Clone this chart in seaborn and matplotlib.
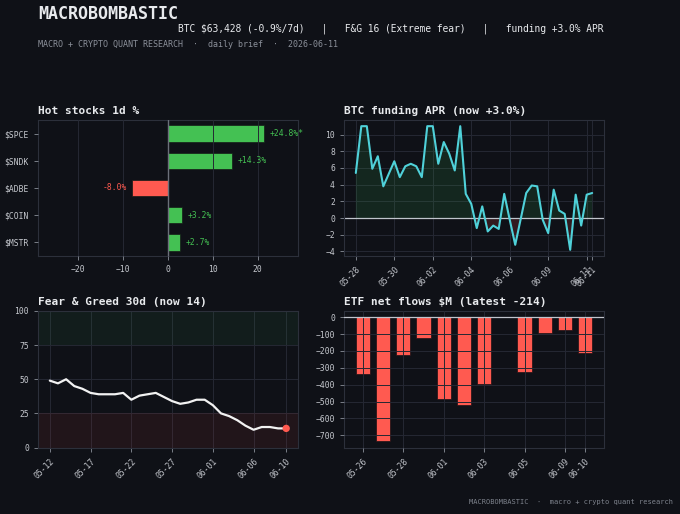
import numpy as np
import pandas as pd
import matplotlib
matplotlib.use("Agg")
import matplotlib.pyplot as plt
import seaborn as sns

# ---------------- data ----------------
stock_names = ["$SPCE", "$SNDK", "$ADBE", "$COIN", "$MSTR"]
stock_pct = [24.8, 14.3, -8.0, 3.2, 2.7]
stock_cap = 21.5

funding_apr = [5.4, 11.0, 11.0, 5.9, 7.4, 3.8, 5.3, 6.8, 4.9, 6.2, 6.5, 6.2, 4.9, 11.0, 11.0,
               6.5, 9.1, 7.7, 5.7, 11.0, 2.9, 1.7, -1.2, 1.4, -1.6, -0.9, -1.3, 2.9, -0.2, -3.2,
               -0.1, 3.0, 3.9, 3.8, -0.2, -1.8, 3.4, 0.9, 0.5, -3.8, 2.8, -0.9, 2.8, 3.0]
funding_tick_labels = ["05-28", "05-30", "06-02", "06-04", "06-06", "06-09", "06-11", "06-11"]

fg_dates = ["05-12", "05-13", "05-14", "05-15", "05-16", "05-17", "05-18", "05-19", "05-20", "05-21",
            "05-22", "05-23", "05-24", "05-25", "05-26", "05-27", "05-28", "05-29", "05-30", "05-31",
            "06-01", "06-02", "06-03", "06-04", "06-05", "06-06", "06-07", "06-08", "06-09", "06-10"]
fg_values = [49, 47, 50, 45, 43, 40, 39, 39, 39, 40, 35, 38, 39, 40, 37, 34, 32, 33, 35, 35,
             31, 25, 23, 20, 16, 13, 15, 15, 14, 14]

etf_dates = ["05-26", "05-27", "05-28", "05-29", "06-01", "06-02", "06-03", "06-04",
             "06-05", "06-08", "06-09", "06-10"]
etf_flows = [-334, -736, -223, -125, -483, -521, -398, 0, -324, -91, -78, -214]

# ---------------- style ----------------
BG = "#0f1117"
GRID = "#252833"
SPINE = "#2c303b"
TEXT = "#e8eaed"
TICK = "#c5c8ce"
DIM = "#8b909a"
GREEN = "#44c153"
RED = "#ff5a50"
CYAN = "#4fd1d9"

sns.set_theme(style="dark", rc={
    "figure.facecolor": BG, "axes.facecolor": BG, "savefig.facecolor": BG,
    "axes.edgecolor": SPINE, "axes.linewidth": 0.8, "axes.grid": True,
    "grid.color": GRID, "grid.linewidth": 0.7,
    "xtick.color": DIM, "ytick.color": DIM,
    "xtick.labelcolor": TICK, "ytick.labelcolor": TICK,
    "xtick.labelsize": 5.8, "ytick.labelsize": 5.8,
    "xtick.major.size": 3, "ytick.major.size": 3,
    "xtick.major.width": 0.6, "ytick.major.width": 0.6,
    "xtick.bottom": True, "ytick.left": True,
    "text.color": TEXT, "axes.labelcolor": TICK,
})
plt.rcParams["font.family"] = ["DejaVu Sans Mono", "DejaVu Sans"]

W, H = 680, 514
fig = plt.figure(figsize=(W / 100, H / 100), dpi=100)


def px_axes(l, t, r, b):
    return fig.add_axes([l / W, 1 - b / H, (r - l) / W, (b - t) / H])


ax1 = px_axes(38, 120, 298, 256)
ax2 = px_axes(344, 120, 604, 256)
ax3 = px_axes(38, 311, 298, 447.5)
ax4 = px_axes(344, 311, 604, 447.5)


def style_title(ax, txt):
    ax.set_title(txt, loc="left", fontsize=8, fontweight="bold", color=TEXT, pad=4)
    for s in ax.spines.values():
        s.set_color(SPINE)
        s.set_linewidth(0.8)
        s.set_visible(True)
    ax.set_xlabel("")
    ax.set_ylabel("")


# ---- Hot stocks ----
disp = np.clip(stock_pct, -stock_cap, stock_cap)
cols = [GREEN if v >= 0 else RED for v in stock_pct]
sdf = pd.DataFrame({"name": stock_names, "val": disp})
sns.barplot(data=sdf, x="val", y="name", hue="name", palette=cols, legend=False,
            orient="h", width=0.6, ax=ax1, saturation=1, edgecolor="#141a16", linewidth=0.5)
ax1.set_axisbelow(False)
ax1.axvline(0, color="#6b707a", lw=1.0, zorder=3)
for i, (v, d) in enumerate(zip(stock_pct, disp)):
    lab = f"{v:+.1f}%" + ("*" if abs(v) > stock_cap else "")
    if v >= 0:
        ax1.text(d + 1.2, i, lab, va="center", ha="left", fontsize=5.8, color=GREEN, zorder=4)
    else:
        ax1.text(d - 1.2, i, lab, va="center", ha="right", fontsize=5.8, color=RED, zorder=4)
ax1.set_xlim(-29, 29)
ax1.set_xticks([-20, -10, 0, 10, 20])
style_title(ax1, "Hot stocks 1d %")

# ---- BTC funding ----
fidx = np.arange(len(funding_apr))
fvals = np.array(funding_apr)
sns.lineplot(x=fidx, y=fvals, color=CYAN, lw=1.5, ax=ax2, zorder=3)
ax2.fill_between(fidx, fvals, 0, where=fvals >= 0, interpolate=True, color="#3dbf55", alpha=0.13, lw=0)
ax2.fill_between(fidx, fvals, 0, where=fvals < 0, interpolate=True, color="#ff5252", alpha=0.15, lw=0)
ax2.axhline(0, color="#c0c4cc", lw=0.9, zorder=2)
ftick_pos = list(range(0, len(funding_apr), 7)) + [len(funding_apr) - 1]
ax2.set_xticks(ftick_pos)
ax2.set_xticklabels(funding_tick_labels, rotation=45, ha="right", rotation_mode="anchor")
ax2.set_yticks([-4, -2, 0, 2, 4, 6, 8, 10])
ax2.set_xlim(-2.15, len(funding_apr) - 1 + 2.15)
style_title(ax2, "BTC funding APR (now +3.0%)")

# ---- Fear & Greed ----
gidx = np.arange(len(fg_values))
ax3.axhspan(75, 100, color="#2e8b4a", alpha=0.10, lw=0)
ax3.axhspan(0, 25, color="#c0393b", alpha=0.10, lw=0)
sns.lineplot(x=gidx, y=fg_values, color="#f2f2f2", lw=1.6, ax=ax3, zorder=3)
ax3.scatter([gidx[-1]], [fg_values[-1]], s=28, color=RED, zorder=4, edgecolor="none")
ax3.set_ylim(0, 100)
ax3.set_yticks([0, 25, 50, 75, 100])
gpos = list(range(0, len(fg_values), 5)) + [len(fg_values) - 1]
ax3.set_xticks(gpos)
ax3.set_xticklabels([fg_dates[i] for i in gpos], rotation=45, ha="right", rotation_mode="anchor")
ax3.set_xlim(-1.45, len(fg_values) - 1 + 1.45)
style_title(ax3, f"Fear & Greed 30d (now {fg_values[-1]})")

# ---- ETF flows ----
edf = pd.DataFrame({"date": etf_dates, "flow": etf_flows})
sns.barplot(data=edf, x="date", y="flow", color=RED, saturation=1, width=0.7, ax=ax4,
            edgecolor="#1a1014", linewidth=0.5)
ax4.set_axisbelow(False)
ax4.xaxis.grid(True)
ax4.yaxis.grid(True)
ax4.axhline(0, color="#c0c4cc", lw=0.9, zorder=3)
epos = list(range(0, len(etf_dates), 2)) + [len(etf_dates) - 1]
ax4.set_xticks(epos)
ax4.set_xticklabels([etf_dates[i] for i in epos], rotation=45, ha="right", rotation_mode="anchor")
ax4.set_yticks([0, -100, -200, -300, -400, -500, -600, -700])
ax4.set_xlim(-0.935, len(etf_dates) - 1 + 0.935)
ax4.set_ylim(min(etf_flows) * 1.05, -min(etf_flows) * 0.05)
style_title(ax4, f"ETF net flows $M (latest {etf_flows[-1]})")

# ---- header / footer ----
fig.text(38 / W, 1 - 14 / H, "MACROBOMBASTIC", fontsize=12, fontweight="bold", color=TEXT,
         ha="left", va="center")
fig.text(604 / W, 1 - 28.5 / H,
         "BTC $63,428 (-0.9%/7d)   |   F&G 16 (Extreme fear)   |   funding +3.0% APR",
         fontsize=6.9, color=TEXT, ha="right", va="center")
fig.text(38 / W, 1 - 44.5 / H, "MACRO + CRYPTO QUANT RESEARCH  ·  daily brief  ·  2026-06-11",
         fontsize=6, color=DIM, ha="left", va="center")
fig.text(673 / W, 1 - 502 / H, "MACROBOMBASTIC  ·  macro + crypto quant research",
         fontsize=5, color="#7d828c", ha="right", va="center")

fig.savefig("out.png", dpi=100, facecolor=BG)
